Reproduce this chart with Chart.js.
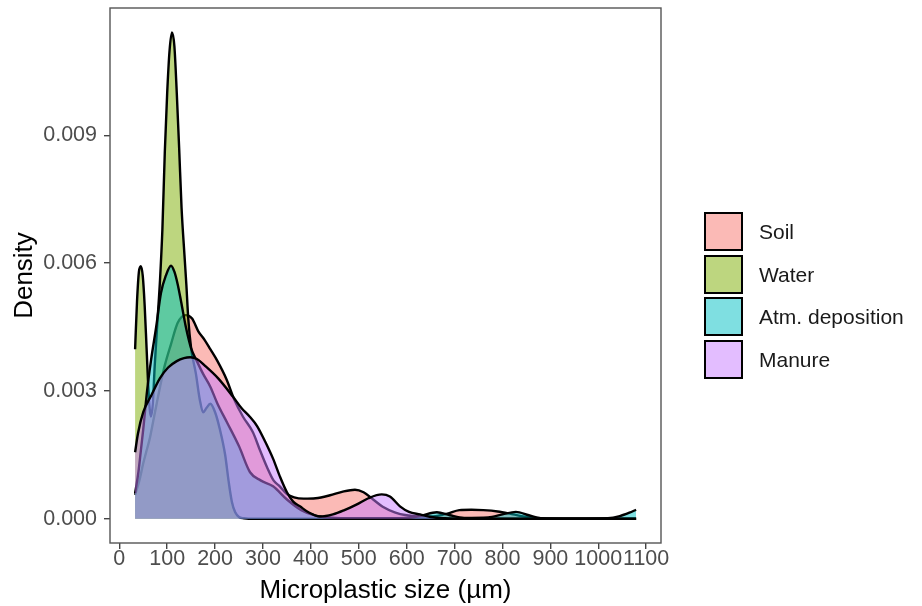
<!DOCTYPE html>
<html>
<head>
<meta charset="utf-8">
<script src="https://cdn.jsdelivr.net/npm/chart.js@4"></script>
<style>
  body { margin: 0; background: #fff; font-family: "Liberation Sans", Arial, sans-serif; }
  #wrap { position: relative; width: 922px; height: 606px; }
  #legend { position: absolute; left: 704px; top: 212px; }
  .item { position: relative; height: 42.5px; }
  .swatch { position: absolute; left: 0; top: 0; width: 35px; height: 35px; border: 2px solid #000; }
  .lbl { position: absolute; left: 55px; top: 0; height: 39px; line-height: 39px; font-size: 21px; color: #1a1a1a; white-space: nowrap; }
</style>
</head>
<body>
<div id="wrap">
  <canvas id="densityChart" width="922" height="606"></canvas>
  <div id="legend"></div>
</div>
<script>
// Data (x = microplastic size in µm, y = density)
const soilX = [33, 42, 50, 57, 64, 71, 78, 87, 95, 108, 122, 139, 152, 165, 178, 190, 205, 224, 240, 258, 279, 294, 308, 322, 335, 350, 365, 385, 410, 440, 465, 492, 510, 530, 550, 575, 600, 630, 660, 685, 710, 735, 760, 790, 815, 840, 870, 900, 1079];
const soilY = [0.00056, 0.0009, 0.0013, 0.0016, 0.0019, 0.0023, 0.0027, 0.0032, 0.0036, 0.0041, 0.0046, 0.00478, 0.0047, 0.0044, 0.0042, 0.00398, 0.0037, 0.00327, 0.0028, 0.0024, 0.00203, 0.0016, 0.00122, 0.0009, 0.00076, 0.00058, 0.0005, 0.00047, 0.00048, 0.00055, 0.00063, 0.00068, 0.00062, 0.00045, 0.00028, 0.00015, 0.00008, 0.00005, 0.00006, 0.00012, 0.0002, 0.00021, 0.0002, 0.00017, 0.00012, 0.00006, 0.00002, 0, 0];

const waterX = [33, 37, 41, 45, 49, 53, 57, 61, 66, 70, 74, 80, 85, 90, 95, 100, 105, 110, 115, 120, 125, 130, 136, 140, 144, 150, 160, 168, 175, 182, 190, 200, 210, 221, 228, 235, 242, 250, 260, 270, 1079];
const waterY = [0.00398, 0.0051, 0.0058, 0.00593, 0.0057, 0.0050, 0.0040, 0.0030, 0.0024, 0.0027, 0.0036, 0.0047, 0.0056, 0.0068, 0.0086, 0.0100, 0.0110, 0.01142, 0.0111, 0.0100, 0.0087, 0.0073, 0.0062, 0.0055, 0.0047, 0.0040, 0.0034, 0.0028, 0.0025, 0.0026, 0.0027, 0.0025, 0.0021, 0.0015, 0.0009, 0.0004, 0.00015, 0.00004, 0.00001, 0, 0];

const atmX = [33, 40, 45, 50, 58, 66, 77, 87, 97, 108, 115, 122, 129, 139, 150, 162, 175, 190, 205, 225, 250, 273, 295, 321, 350, 380, 410, 450, 520, 600, 630, 663, 690, 720, 770, 800, 828, 855, 880, 950, 1020, 1045, 1065, 1079];
const atmY = [0.0006, 0.0011, 0.0016, 0.0021, 0.0030, 0.0037, 0.0045, 0.0053, 0.0057, 0.00594, 0.0058, 0.0055, 0.0051, 0.0045, 0.0040, 0.0037, 0.0034, 0.0031, 0.0027, 0.00226, 0.0017, 0.00109, 0.0009, 0.00076, 0.00045, 0.0002, 0.00007, 0.00002, 0.00001, 0.00002, 0.00007, 0.00015, 0.00008, 0.00002, 0.00003, 0.0001, 0.00016, 0.00008, 0.00001, 0, 0.00001, 0.00006, 0.00014, 0.00021];

const manureX = [33, 39, 50, 67, 85, 102, 120, 135, 148, 162, 178, 206, 237, 255, 272, 288, 305, 321, 335, 350, 363, 377, 395, 419, 446, 470, 495, 520, 548, 565, 586, 605, 628, 650, 680, 720, 1079];
const manureY = [0.00156, 0.0020, 0.0025, 0.0029, 0.0033, 0.00355, 0.0037, 0.00377, 0.00379, 0.00375, 0.0036, 0.0033, 0.00287, 0.0026, 0.0024, 0.00217, 0.0018, 0.00141, 0.0010, 0.00062, 0.0004, 0.00029, 0.00015, 0.00005, 0.0001, 0.0002, 0.00033, 0.00048, 0.00057, 0.00052, 0.00029, 0.00016, 0.0001, 0.00004, 0.00001, 0, 0];

const groups = ['Soil', 'Water', 'Atm. deposition', 'Manure'];
const xTicks = [0, 100, 200, 300, 400, 500, 600, 700, 800, 900, 1000, 1100];
const yTicks = [0, 0.003, 0.006, 0.009];

const fills = ['rgba(248,118,109,0.5)', 'rgba(124,174,0,0.5)', 'rgba(0,191,196,0.5)', 'rgba(199,124,255,0.5)'];

Chart.defaults.font.family = '"Liberation Sans", Arial, sans-serif';

function toPoints(xs, ys) {
    return xs.map((x, i) => ({ x: x, y: ys[i] }));
}

const series = [[soilX, soilY], [waterX, waterY], [atmX, atmY], [manureX, manureY]];

// ggplot draws Soil first and Manure last (on top)
const datasets = series.map((s, i) => ({
    label: groups[i],
    data: toPoints(s[0], s[1]),
    backgroundColor: fills[i],
    borderColor: '#000',
    borderWidth: 2.4,
    fill: 'origin',
    pointRadius: 0,
    cubicInterpolationMode: 'monotone',
    order: 3 - i
}));

// panel border like theme_bw
const panelBorder = {
    id: 'panelBorder',
    afterDraw(chart) {
        const a = chart.chartArea;
        const ctx = chart.ctx;
        ctx.save();
        ctx.strokeStyle = '#555';
        ctx.lineWidth = 1.4;
        ctx.strokeRect(a.left, a.top, a.right - a.left, a.bottom - a.top);
        ctx.restore();
    }
};

const ctx = document.getElementById('densityChart').getContext('2d');
const densityChart = new Chart(ctx, {
    type: 'line',
    data: { datasets: datasets },
    options: {
        responsive: false,
        animation: false,
        layout: { padding: { left: 0, top: 8, right: 261, bottom: 0 } },
        plugins: {
            legend: { display: false },
            tooltip: { enabled: false }
        },
        scales: {
            x: {
                type: 'linear',
                min: -19.4,
                max: 1131,
                afterFit: s => { s.height = 63; s.paddingLeft = 0; s.paddingRight = 0; },
                afterBuildTicks: s => { s.ticks = xTicks.map(v => ({ value: v })); },
                border: { display: false },
                grid: { drawOnChartArea: false, drawTicks: true, tickLength: 6, color: '#444', lineWidth: 1.4 },
                ticks: {
                    autoSkip: false,
                    maxRotation: 0,
                    padding: -1,
                    color: '#4d4d4d',
                    font: { size: 21.5, lineHeight: 1 },
                    callback: v => String(v)
                },
                title: {
                    display: true,
                    text: 'Microplastic size (µm)',
                    color: '#000',
                    font: { size: 26, lineHeight: 1 },
                    padding: { top: 0, bottom: 2 }
                }
            },
            y: {
                type: 'linear',
                min: -0.000571,
                max: 0.011992,
                afterFit: s => { s.width = 110; s.paddingTop = 0; s.paddingBottom = 0; },
                afterBuildTicks: s => { s.ticks = yTicks.map(v => ({ value: v })); },
                border: { display: false },
                grid: { drawOnChartArea: false, drawTicks: true, tickLength: 6, color: '#444', lineWidth: 1.4 },
                ticks: {
                    padding: 7,
                    color: '#4d4d4d',
                    font: { size: 21.5, lineHeight: 1 },
                    callback: v => v.toFixed(3)
                },
                title: {
                    display: true,
                    text: 'Density',
                    color: '#000',
                    font: { size: 26, lineHeight: 1 },
                    padding: { top: 12, bottom: 0 }
                }
            }
        }
    },
    plugins: [panelBorder]
});

// legend on the right
const legend = document.getElementById('legend');
groups.forEach((g, i) => {
    const item = document.createElement('div');
    item.className = 'item';
    item.innerHTML = `<div class="swatch" style="background:${fills[i]}"></div><div class="lbl">${g}</div>`;
    legend.appendChild(item);
});
</script>
</body>
</html>
